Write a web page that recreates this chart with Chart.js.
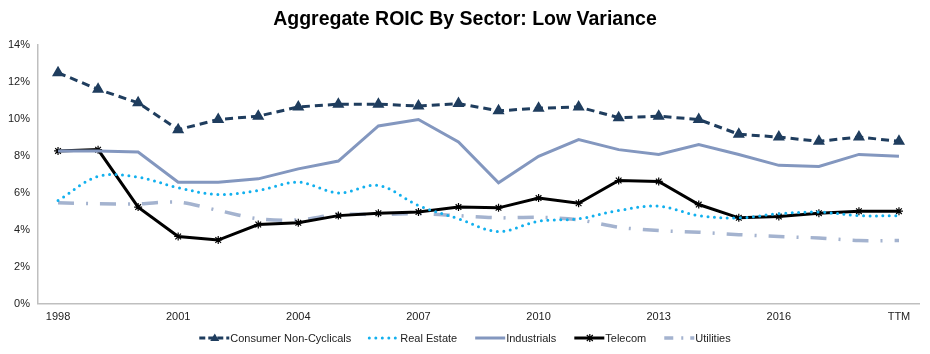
<!DOCTYPE html>
<html>
<head>
<meta charset="utf-8">
<script src="https://cdn.jsdelivr.net/npm/chart.js@4/dist/chart.umd.min.js"></script>
<style>
  html, body { margin: 0; padding: 0; background: #fff; }
  #wrap { width: 930px; height: 354px; }
</style>
</head>
<body>
<div id="wrap"><canvas id="chart"></canvas></div>
<script>
const years = ["1998", "1999", "2000", "2001", "2002", "2003", "2004", "2005", "2006", "2007", "2008",
  "2009", "2010", "2011", "2012", "2013", "2014", "2015", "2016", "2017", "2018", "TTM"];
const shownYears = ["1998", "2001", "2004", "2007", "2010", "2013", "2016", "TTM"];

const consumerNonCyclicals = [12.5, 11.6, 10.87, 9.42, 9.97, 10.15, 10.65, 10.8, 10.8, 10.7, 10.83,
  10.44, 10.58, 10.65, 10.07, 10.15, 9.97, 9.17, 9.02, 8.79, 9.02, 8.79];
const realEstate = [5.59, 6.89, 6.85, 6.28, 5.91, 6.13, 6.58, 6.0, 6.4, 5.32, 4.6,
  3.91, 4.47, 4.6, 5.05, 5.28, 4.77, 4.65, 4.87, 4.96, 4.77, 4.77];
const industrials = [8.27, 8.27, 8.21, 6.58, 6.58, 6.76, 7.3, 7.72, 9.62, 9.97, 8.75,
  6.55, 7.98, 8.88, 8.34, 8.08, 8.61, 8.08, 7.49, 7.43, 8.08, 7.98];
const telecom = [8.27, 8.34, 5.23, 3.64, 3.45, 4.29, 4.38, 4.77, 4.9, 4.96, 5.23,
  5.19, 5.72, 5.44, 6.67, 6.62, 5.37, 4.65, 4.72, 4.9, 5.01, 5.01];
const utilities = [5.46, 5.41, 5.41, 5.5, 5.05, 4.6, 4.54, 4.83, 4.83, 4.87, 4.77,
  4.65, 4.68, 4.54, 4.14, 3.96, 3.87, 3.74, 3.64, 3.56, 3.42, 3.42];

const chartTitle = "Aggregate ROIC By Sector: Low Variance";

// title + legend drawn by hand: title centred on the whole canvas,
// legend samples keep their dash pattern and markers
const titleAndLegend = {
  id: "titleAndLegend",
  afterDraw(chart) {
    const ctx = chart.ctx;
    ctx.save();
    ctx.fillStyle = "#000";
    ctx.font = "bold 19.5px 'Liberation Sans', Arial, sans-serif";
    ctx.textAlign = "center";
    ctx.textBaseline = "middle";
    ctx.fillText(chartTitle, chart.width / 2, 20);

    const sets = chart.data.datasets;
    const y = 338;
    const sample = 31;
    const gap = 18;
    ctx.textAlign = "left";
    ctx.font = "11px 'Liberation Sans', Arial, sans-serif";
    let total = 0;
    sets.forEach((ds) => { total += sample + ctx.measureText(ds.label).width + gap; });
    total -= gap;
    let x = (chart.width - total) / 2;
    sets.forEach((ds) => {
      ctx.strokeStyle = ds.borderColor;
      ctx.fillStyle = ds.borderColor;
      ctx.lineWidth = ds.borderWidth;
      ctx.lineCap = ds.borderCapStyle || "butt";
      ctx.setLineDash(ds.legendDash || ds.borderDash || []);
      ctx.beginPath();
      ctx.moveTo(x, y);
      ctx.lineTo(x + sample - 1, y);
      ctx.stroke();
      ctx.setLineDash([]);
      const cx = x + sample / 2;
      if (ds.pointStyle === "triangle") {
        ctx.beginPath();
        ctx.moveTo(cx, y - 4.5);
        ctx.lineTo(cx + 4.5, y + 3);
        ctx.lineTo(cx - 4.5, y + 3);
        ctx.closePath();
        ctx.fill();
      } else if (ds.pointStyle === "star") {
        ctx.lineWidth = 1.2;
        ctx.beginPath();
        ctx.moveTo(cx, y - 4); ctx.lineTo(cx, y + 4);
        ctx.moveTo(cx - 3, y - 3); ctx.lineTo(cx + 3, y + 3);
        ctx.moveTo(cx + 3, y - 3); ctx.lineTo(cx - 3, y + 3);
        ctx.stroke();
      }
      ctx.fillStyle = "#222";
      ctx.textBaseline = "middle";
      ctx.fillText(ds.label, x + sample, y + 1);
      x += sample + ctx.measureText(ds.label).width + gap;
    });
    ctx.restore();
  }
};

new Chart(document.getElementById("chart"), {
  type: "line",
  data: {
    labels: years,
    datasets: [
      {
        label: "Consumer Non-Cyclicals",
        data: consumerNonCyclicals,
        borderColor: "#1f3d5e",
        backgroundColor: "#1f3d5e",
        borderWidth: 3,
        borderDash: [8, 5],
        legendDash: [6, 3],
        pointStyle: "triangle",
        pointRadius: 4,
        pointBackgroundColor: "#1f3d5e",
        pointBorderColor: "#1f3d5e",
        tension: 0
      },
      {
        label: "Real Estate",
        data: realEstate,
        borderColor: "#12b0ee",
        backgroundColor: "#12b0ee",
        borderWidth: 3,
        borderCapStyle: "round",
        borderDash: [0, 6.5],
        pointRadius: 0,
        tension: 0.35
      },
      {
        label: "Industrials",
        data: industrials,
        borderColor: "#8397bf",
        backgroundColor: "#8397bf",
        borderWidth: 3,
        pointRadius: 0,
        tension: 0
      },
      {
        label: "Telecom",
        data: telecom,
        borderColor: "#000000",
        backgroundColor: "#000000",
        borderWidth: 3,
        pointStyle: "star",
        pointRadius: 4,
        pointBorderWidth: 1.2,
        pointBorderColor: "#000000",
        tension: 0
      },
      {
        label: "Utilities",
        data: utilities,
        borderColor: "#a4b3cf",
        backgroundColor: "#a4b3cf",
        borderWidth: 3.5,
        borderDash: [16, 12, 2, 12],
        legendDash: [9, 8, 2, 7],
        pointRadius: 0,
        tension: 0.3
      }
    ]
  },
  options: {
    responsive: true,
    maintainAspectRatio: false,
    animation: false,
    layout: { padding: { left: 0, right: 11, top: 45, bottom: 23 } },
    plugins: {
      legend: { display: false },
      tooltip: { enabled: false },
      title: { display: false }
    },
    scales: {
      x: {
        offset: true,
        grid: { display: false, drawTicks: false },
        border: { display: true, color: "#bfbfbf", width: 1.5 },
        ticks: {
          color: "#222",
          font: { family: "'Liberation Sans', Arial, sans-serif", size: 11 },
          autoSkip: false,
          maxRotation: 0,
          padding: 7,
          callback(value) {
            const lab = years[value];
            return shownYears.includes(lab) ? lab : "";
          }
        }
      },
      y: {
        min: 0,
        max: 14,
        grid: { display: false, drawTicks: false },
        border: { display: true, color: "#bfbfbf", width: 1.5 },
        ticks: {
          stepSize: 2,
          color: "#222",
          padding: 8,
          font: { family: "'Liberation Sans', Arial, sans-serif", size: 11 },
          callback: (v) => v + "%"
        }
      }
    }
  },
  plugins: [titleAndLegend]
});
</script>
</body>
</html>
